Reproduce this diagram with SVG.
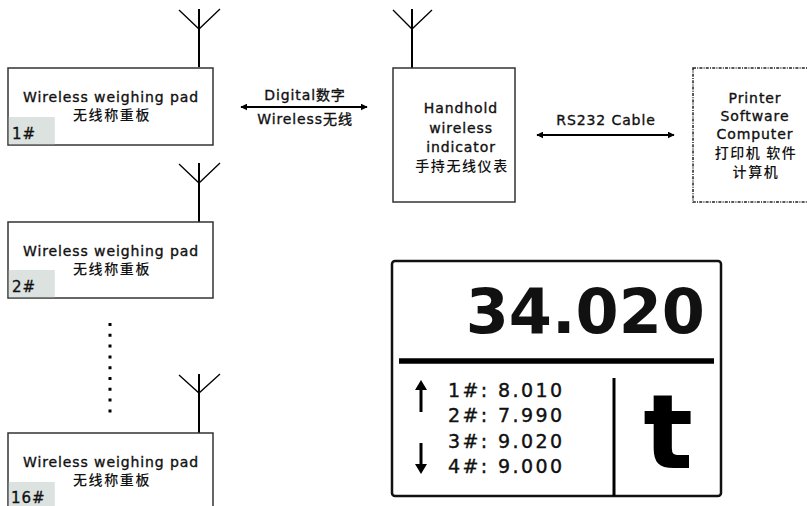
<svg xmlns="http://www.w3.org/2000/svg" width="807" height="506" viewBox="0 0 807 506">
<style>
.box{fill:#fff;stroke:#333;stroke-width:1.5}
.lbl{fill:#dce2e0}
.t{font-family:"DejaVu Sans","Noto Sans CJK SC",sans-serif;font-size:14px;letter-spacing:0.9px;fill:#111;stroke:#111;stroke-width:0.35;text-anchor:middle}
.cn{font-family:"Noto Sans CJK SC","DejaVu Sans",sans-serif;font-weight:500;font-size:14px;letter-spacing:1.6px;fill:#111;text-anchor:middle}
.num{font-family:"DejaVu Sans",sans-serif;font-size:15px;letter-spacing:1px;fill:#111;stroke:#111;stroke-width:0.35}
.ant{stroke:#000;fill:none}
.list{font-family:"DejaVu Sans",sans-serif;font-size:19px;fill:#111;stroke:#111;stroke-width:0.4;letter-spacing:2.4px}
.con{stroke:#000;stroke-width:2;fill:none}
</style>
<defs>
<marker id="ah" viewBox="0 0 10 10" refX="9" refY="5" markerWidth="7" markerHeight="7" markerUnits="userSpaceOnUse" orient="auto-start-reverse">
<path d="M0,0 L10,5 L0,10 z" fill="#000"/>
</marker>
</defs>

<g id="pad1">
<path class="ant" d="M199,9 V67" stroke-width="2"/>
<path class="ant" d="M179,10 L199,29 L220,9" stroke-width="1.3"/>
<rect class="box" x="8" y="68" width="205" height="77"/>
<rect class="lbl" x="8.8" y="117" width="46" height="27.2"/>
<text class="t" x="111" y="102">Wireless weighing pad</text>
<text class="cn" x="112" y="120">无线称重板</text>
<text class="num" x="12" y="139">1#</text>
</g>

<g id="pad2">
<path class="ant" d="M199,163 V222" stroke-width="2"/>
<path class="ant" d="M179,164 L199,183 L220,163" stroke-width="1.3"/>
<rect class="box" x="8" y="222" width="205" height="76"/>
<rect class="lbl" x="8.8" y="270" width="46" height="27.2"/>
<text class="t" x="111" y="256">Wireless weighing pad</text>
<text class="cn" x="112" y="274">无线称重板</text>
<text class="num" x="12" y="292">2#</text>
</g>

<g id="dots">
<path d="M110,323 V420" stroke="#000" stroke-width="3" stroke-dasharray="3 7.8" fill="none"/>
</g>

<g id="pad16">
<path class="ant" d="M199,374 V433" stroke-width="2"/>
<path class="ant" d="M179,375 L199,393 L220,374" stroke-width="1.3"/>
<rect class="box" x="8" y="433" width="205" height="80"/>
<rect class="lbl" x="8.8" y="482" width="46" height="24"/>
<text class="t" x="111" y="467">Wireless weighing pad</text>
<text class="cn" x="112" y="485">无线称重板</text>
<text class="num" x="11" y="503">16#</text>
</g>

<g id="indicator">
<path class="ant" d="M412,9 V68" stroke-width="2"/>
<path class="ant" d="M393,10 L412,29 L432,10" stroke-width="1.3"/>
<rect class="box" x="393" y="68" width="122" height="134"/>
<text class="t" x="461" y="113">Handhold</text>
<text class="t" x="461" y="133">wireless</text>
<text class="t" x="461" y="152">indicator</text>
<text class="cn" x="462" y="171">手持无线仪表</text>
</g>

<g id="printer">
<rect x="693" y="68" width="120" height="134" fill="#fff" stroke="#222" stroke-width="1.5" stroke-dasharray="3 1.2 1 1.2"/>
<text class="t" x="755" y="103">Printer</text>
<text class="t" x="755" y="121">Software</text>
<text class="t" x="755" y="139">Computer</text>
<text class="cn" x="756" y="158" font-size="13" letter-spacing="1.4">打印机 软件</text>
<text class="cn" x="756" y="177" font-size="13" letter-spacing="2">计算机</text>
</g>

<g id="display">
<rect x="392" y="261" width="329" height="235" rx="3" fill="#fff" stroke="#111" stroke-width="2.5"/>
<path d="M399,361 H714" stroke="#000" stroke-width="5.5"/>
<path d="M614,378 V496" stroke="#000" stroke-width="3"/>
<text x="705" y="333" font-family="DejaVu Sans,sans-serif" font-weight="bold" font-size="62" text-anchor="end" fill="#111">34.020</text>
<text x="668" y="468" font-family="DejaVu Sans,sans-serif" font-weight="bold" font-size="104" text-anchor="middle" fill="#000">t</text>
<text class="list" x="448" y="397">1#: 8.010</text>
<text class="list" x="448" y="422">2#: 7.990</text>
<text class="list" x="448" y="448">3#: 9.020</text>
<text class="list" x="448" y="473">4#: 9.000</text>
<path d="M421,412 V388" stroke="#000" stroke-width="3"/>
<path d="M415,390 L421,380 L427,390 z" fill="#000"/>
<path d="M421,443 V466" stroke="#000" stroke-width="3"/>
<path d="M415,464 L421,474 L427,464 z" fill="#000"/>
</g>

<g id="connectors">
<path class="con" d="M241,107 H367" marker-start="url(#ah)" marker-end="url(#ah)"/>
<text class="t" x="305" y="100">Digital数字</text>
<text class="t" x="305" y="124">Wireless无线</text>
<path class="con" d="M537,135 H674" marker-start="url(#ah)" marker-end="url(#ah)"/>
<text class="t" x="606" y="125" font-size="16" letter-spacing="0.6">RS232 Cable</text>
</g>
</svg>
